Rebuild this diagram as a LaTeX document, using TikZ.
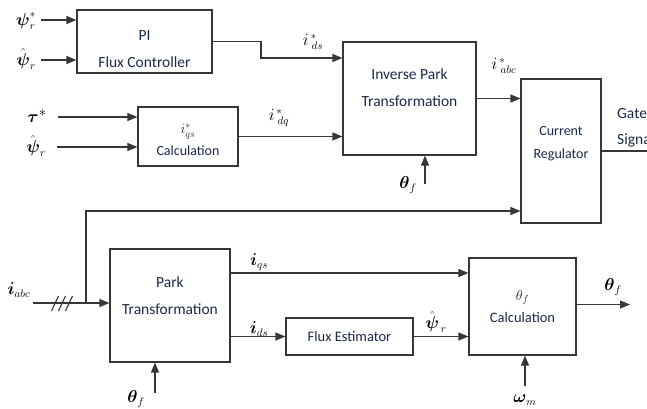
\documentclass[tikz,border=0pt]{standalone}
\usepackage{amsmath,amssymb}
\usepackage{fontspec}
\setmainfont{Carlito}
\usepackage{tikz}
\usetikzlibrary{positioning,arrows.meta,calc}

\definecolor{boxtext}{RGB}{28,40,72}
\definecolor{wire}{RGB}{55,55,55}

\begin{document}
\begin{tikzpicture}[
    x=1pt, y=-1pt,
    font=\fontsize{15.5}{27}\selectfont,
    block/.style={draw=wire, line width=1.1pt, text=boxtext, align=center, inner sep=0pt},
    arrow/.style={-{Triangle[length=10pt,width=8pt]}, draw=wire, line width=1.1pt},
    plain_line/.style={draw=wire, line width=1.1pt},
    sig/.style={font=\fontsize{16}{18}\selectfont, inner sep=1pt},
]
\useasboundingbox (0,0) rectangle (647,408);

\node (pi)      [block, minimum width=135pt, minimum height=63pt, text height=52pt] at (144.5,41.5)
    {PI\\Flux Controller};
\node (iqs)     [block, minimum width=100pt, minimum height=59pt, text height=38pt,
                 font=\fontsize{14}{22}\selectfont] at (188,136.5)
    {$i^{*}_{qs}$\\Calculation};
\node (invpark) [block, minimum width=133pt, minimum height=113pt, text depth=22pt] at (409.5,98.5)
    {Inverse Park\\Transformation};
\node (curreg)  [block, minimum width=80pt, minimum height=144pt, text depth=17pt,
                 font=\fontsize{14}{23}\selectfont] at (561,151)
    {Current\\Regulator};
\node (park)    [block, minimum width=120pt, minimum height=113pt, text depth=20pt] at (170,305.5)
    {Park\\Transformation};
\node (fluxest) [block, minimum width=127pt, minimum height=37pt,
                 font=\fontsize{14.5}{17}\selectfont] at (349.5,336.5)
    {Flux Estimator};
\node (thcalc)  [block, minimum width=107pt, minimum height=97pt,
                 font=\fontsize{14.5}{22}\selectfont] at (522.5,306.5)
    {$\theta_f$\\Calculation};

% input and output labels
\node (lpsistar) [sig] at (26,21)  {$\boldsymbol{\psi}_r^{*}$};
\node (lpsihat)  [sig] at (26,59)  {$\hat{\boldsymbol{\psi}}_r$};
\node (ltau)     [sig, font=\fontsize{19}{20}\selectfont] at (37,116) {$\boldsymbol{\tau}^{*}$};
\node (lpsihat2) [sig] at (36,146) {$\hat{\boldsymbol{\psi}}_r$};
\node (lids)     [sig] at (313,42) {$i^{\,*}_{\;ds}$};
\node (lidq)     [sig] at (279,118) {$i^{\,*}_{\;dq}$};
\node (liabcs)   [sig] at (504,66) {$i^{\,*}_{\;abc}$};
\node (lthinv)   [sig] at (408,185) {$\boldsymbol{\theta}_f$};
\node (gate)     [sig, anchor=west, align=left, text=boxtext,
                  font=\fontsize{15.5}{26}\selectfont] at (616,128) {Gate\\Signal};
\node (liabc)    [sig] at (19,290) {$\boldsymbol{i}_{abc}$};
\node (lthpark)  [sig] at (136,399) {$\boldsymbol{\theta}_f$};
\node (liqs)     [sig] at (259,262) {$\boldsymbol{i}_{qs}$};
\node (lidsm)    [sig] at (259,329) {$\boldsymbol{i}_{ds}$};
\node (lpsiest)  [sig] at (436,322) {$\hat{\boldsymbol{\psi}}_{\,r}$};
\node (lthout)   [sig] at (613,287) {$\boldsymbol{\theta}_f$};
\node (lom)      [sig] at (525,400) {$\boldsymbol{\omega}_m$};

\coordinate (thinv)  at (425,184);
\coordinate (gateout) at (660,151);
\coordinate (iabcin) at (33,303);
\coordinate (split)  at (86,303);
\coordinate (thpark) at (155,393);
\coordinate (thout)  at (630,304.5);
\coordinate (omin)   at (525,386);

\draw [arrow] (41,20) -- (pi.west |- 0,20);
\draw [arrow] (41,60) -- (pi.west |- 0,60);
\draw [arrow] (58,117) -- (iqs.west |- 0,117);
\draw [arrow] (57,147) -- (iqs.west |- 0,147);

\draw [arrow] (pi.east) -| (261,58) -- (invpark.west |- 0,58);
\draw [arrow] (iqs.east) -- (invpark.west |- iqs.east);
\draw [arrow] (thinv) -- (thinv |- invpark.south);
\draw [arrow] (invpark.east) -- (curreg.west |- invpark.east);
\draw [plain_line] (curreg.east) -- (gateout);

\draw [arrow] (iabcin) -- (park.west |- iabcin);
\draw [arrow] (split) |- (curreg.west |- 0,211);
\foreach \sx in {55,62,69}
    \draw [plain_line] (\sx-3.5,311) -- (\sx+3.5,296);
\draw [arrow] (thpark) -- (thpark |- park.south);
\draw [arrow] (park.east |- 0,273) -- (thcalc.west |- 0,273);
\draw [arrow] (park.east |- fluxest.west) -- (fluxest.west);
\draw [arrow] (fluxest.east) -- (thcalc.west |- fluxest.east);
\draw [arrow] (thcalc.east |- thout) -- (thout);
\draw [arrow] (omin) -- (omin |- thcalc.south);

\end{tikzpicture}
\end{document}
